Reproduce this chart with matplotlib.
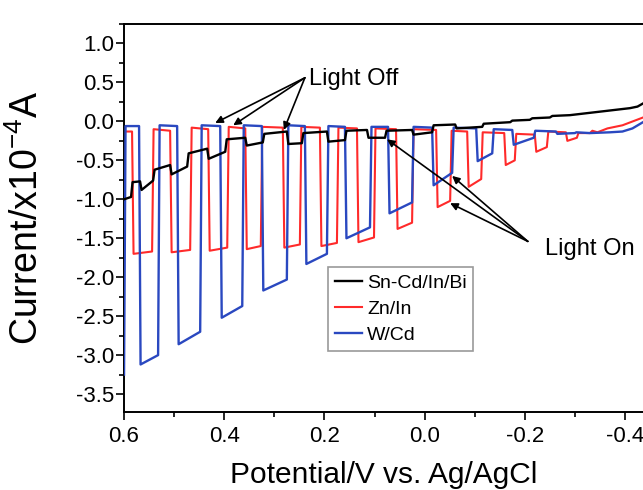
import numpy as np
import matplotlib.pyplot as plt

plt.rcParams['font.family'] = ['Liberation Sans', 'DejaVu Sans']
plt.rcParams['mathtext.fontset'] = 'custom'
plt.rcParams['mathtext.rm'] = 'Liberation Sans'

# ---- W/Cd (blue) : light-on segments and dark (off) levels ----
w_head_v = [0.600]
w_head_i = [-3.25]
w_on_start = [0.570, 0.494, 0.408, 0.325, 0.239, 0.159, 0.073, -0.015, -0.103, -0.175, -0.262]
w_on_end = [0.532, 0.448, 0.364, 0.275, 0.195, 0.109, 0.025, -0.055, -0.135, -0.218, -0.300]
w_on_a = [-3.12, -2.86, -2.52, -2.17, -1.83, -1.50, -1.18, -0.82, -0.51, -0.30, -0.16]
w_on_b = [-3.00, -2.70, -2.37, -2.03, -1.70, -1.36, -1.04, -0.66, -0.41, -0.21, -0.15]
w_off_a = [-0.06, -0.05, -0.05, -0.05, -0.05, -0.06, -0.07, -0.07, -0.08, -0.10, -0.12]
w_off_b = [-0.06, -0.06, -0.06, -0.06, -0.06, -0.07, -0.07, -0.08, -0.09, -0.11, -0.13]
w_tail_v = [-0.303, -0.330, -0.370, -0.395, -0.415, -0.436]
w_tail_i = [-0.14, -0.15, -0.14, -0.13, -0.09, -0.01]

# ---- Zn/In (red) ----
z_head_v = [0.600]
z_head_i = [-0.14]
z_on_start = [0.584, 0.508, 0.432, 0.358, 0.283, 0.209, 0.135, 0.057, -0.023, -0.085, -0.159, -0.220, -0.282]
z_on_end = [0.544, 0.468, 0.394, 0.327, 0.249, 0.175, 0.101, 0.025, -0.051, -0.113, -0.180, -0.244, -0.304]
z_on_a = [-1.70, -1.68, -1.66, -1.64, -1.62, -1.60, -1.55, -1.38, -1.10, -0.84, -0.56, -0.39, -0.25]
z_on_b = [-1.67, -1.65, -1.62, -1.60, -1.58, -1.56, -1.49, -1.30, -1.02, -0.74, -0.50, -0.33, -0.21]
z_off_a = [-0.13, -0.10, -0.08, -0.07, -0.07, -0.07, -0.08, -0.09, -0.10, -0.12, -0.14, -0.16, -0.13]
z_off_b = [-0.13, -0.12, -0.10, -0.09, -0.08, -0.08, -0.09, -0.10, -0.11, -0.13, -0.15, -0.17, -0.14]
z_tail_v = [-0.307, -0.330, -0.335, -0.345, -0.365, -0.395, -0.436]
z_tail_i = [-0.15, -0.15, -0.12, -0.14, -0.09, -0.05, 0.05]

# ---- Sn-Cd/In/Bi (black) ----
s_head_v = [0.600, 0.586]
s_head_i = [-1.00, -0.97]
s_on_start = [0.568, 0.508, 0.434, 0.358, 0.275, 0.195, 0.115, 0.025, -0.061]
s_on_end = [0.542, 0.474, 0.398, 0.323, 0.245, 0.159, 0.079, -0.015, -0.115]
s_on_a = [-0.88, -0.68, -0.48, -0.31, -0.29, -0.26, -0.21, -0.17, -0.09]
s_on_b = [-0.76, -0.58, -0.39, -0.27, -0.28, -0.24, -0.21, -0.14, -0.07]
s_off_a = [-0.78, -0.62, -0.41, -0.23, -0.16, -0.15, -0.12, -0.12, -0.05]
s_off_b = [-0.77, -0.56, -0.35, -0.21, -0.13, -0.13, -0.11, -0.11, -0.04]
s_tail_v = [-0.118, -0.171, -0.175, -0.210, -0.215, -0.250, -0.255, -0.290, -0.330, -0.370, -0.410, -0.425, -0.436]
s_tail_i = [-0.03, -0.01, 0.01, 0.02, 0.04, 0.05, 0.07, 0.08, 0.11, 0.14, 0.17, 0.19, 0.23]


def chopped_path(head_v, head_i, on_start, on_end, on_a, on_b, off_a, off_b, tail_v, tail_i):
    # join read-off vertices: dark segment, switch on, lit segment, switch off
    dv = 0.003
    v = list(head_v)
    i = list(head_i)
    for k in range(len(on_start)):
        v += [v[-1] - dv, on_start[k], on_start[k] - dv, on_end[k]]
        i += [off_a[k], off_b[k], on_a[k], on_b[k]]
    v += [v[-1] - dv] + list(tail_v[1:])
    i += list(tail_i)
    return v, i


fig = plt.figure(figsize=(6.43, 4.90), dpi=100)
ax = fig.add_axes([0.1929, 0.1592, 0.8071, 0.7918])

sv, si = chopped_path(s_head_v, s_head_i, s_on_start, s_on_end, s_on_a, s_on_b,
                      s_off_a, s_off_b, s_tail_v, s_tail_i)
zv, zi = chopped_path(z_head_v, z_head_i, z_on_start, z_on_end, z_on_a, z_on_b,
                      z_off_a, z_off_b, z_tail_v, z_tail_i)
wv, wi = chopped_path(w_head_v, w_head_i, w_on_start, w_on_end, w_on_a, w_on_b,
                      w_off_a, w_off_b, w_tail_v, w_tail_i)

ax.plot(sv, si, color='black', lw=1.7, label='Sn-Cd/In/Bi', zorder=4)
ax.plot(zv, zi, color='#ff2a2a', lw=1.5, label='Zn/In', zorder=2)
ax.plot(wv, wi, color='#2a48c0', lw=1.7, label='W/Cd', zorder=3)

ax.set_xlim(0.6, -0.436)
ax.set_ylim(-3.73, 1.0)
ax.set_xticks(np.arange(0.6, -0.45, -0.2))
ax.set_xticks(np.arange(0.5, -0.45, -0.2), minor=True)
ax.set_yticks(np.arange(-3.5, 1.01, 0.5))
ax.set_yticks(np.arange(-3.75, 1.01, 0.5) + 0.5, minor=True)
ax.set_xticklabels(['0.6', '0.4', '0.2', '0.0', '-0.2', '-0.4'])
ax.set_yticklabels(['%.1f' % t for t in np.arange(-3.5, 1.01, 0.5)])
ax.tick_params(which='major', direction='out', length=6, width=1.2, labelsize=16, pad=4)
ax.tick_params(which='minor', direction='out', length=3.5, width=1.2)
ax.tick_params(axis='y', which='major', pad=1)
ax.spines['right'].set_visible(False)
for s in ['left', 'bottom', 'top']:
    ax.spines[s].set_linewidth(1.4)

ax.set_xlabel('Potential/V vs. Ag/AgCl', fontsize=21.5)
ax.xaxis.set_label_coords(0.5, -0.127)
ax.set_ylabel('Current/x10$^{\\mathregular{-4}}$A', fontsize=27)
ax.yaxis.set_label_coords(-0.15, 0.5)

leg = ax.legend(loc='lower left', bbox_to_anchor=(0.393, 0.157), borderaxespad=0,
                fontsize=14, frameon=True, fancybox=False, handlelength=1.4,
                handletextpad=0.25, labelspacing=0.45, borderpad=0.35)
leg.get_frame().set_edgecolor('#808080')
leg.get_frame().set_linewidth(1.2)

arrow = dict(arrowstyle='-|>', color='black', lw=1.2, mutation_scale=11, shrinkA=0, shrinkB=0)
off_targets = [(0.418, -0.02), (0.382, -0.05), (0.281, -0.11)]
for t in off_targets:
    ax.annotate('', xy=t, xytext=(0.239, 0.56), arrowprops=arrow)
ax.text(0.231, 0.54, 'Light Off', fontsize=17, va='center', ha='left')

on_targets = [(0.075, -0.23), (-0.051, -1.05), (-0.055, -0.70)]
for t in on_targets:
    ax.annotate('', xy=t, xytext=(-0.206, -1.54), arrowprops=arrow)
ax.text(-0.240, -1.64, 'Light On', fontsize=17, va='center', ha='left')

fig.savefig('out.png', dpi=100)
